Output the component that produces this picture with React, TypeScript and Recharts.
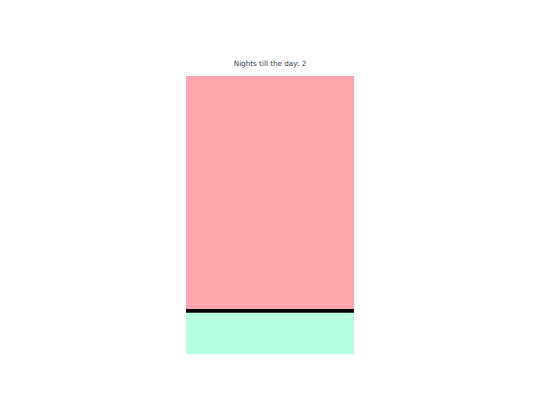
import React from "react";
import { BarChart, Bar, XAxis, YAxis } from "recharts";

const categories = ["today"];
const dayValues = [14.8];
const lineValues = [1.4];
const nightValues = [83.8];
const titleText = "Nights till the day: 2";

const data = categories.map((c, i) => ({
  name: c,
  day: dayValues[i],
  line: lineValues[i],
  night: nightValues[i],
}));

export default function App() {
  return (
    <div style={{ position: "fixed", left: 0, top: 0, width: 540, height: 405, background: "#fff" }}>
      <div
        style={{
          position: "absolute",
          left: 0,
          width: 540,
          top: 59,
          textAlign: "center",
          fontFamily: "DejaVu Sans",
          fontSize: 7.2,
          color: "#2f3b4c",
          lineHeight: "10px",
        }}
      >
        {titleText}
      </div>
      <BarChart
        width={540}
        height={405}
        data={data}
        margin={{ top: 76, right: 186, bottom: 51, left: 186 }}
        barCategoryGap={0}
        barGap={0}
      >
        <XAxis dataKey="name" hide />
        <YAxis hide domain={[0, 100]} />
        <Bar dataKey="day" stackId="a" fill="#b3ffe0" isAnimationActive={false} />
        <Bar dataKey="line" stackId="a" fill="#000000" isAnimationActive={false} />
        <Bar dataKey="night" stackId="a" fill="#ffa5ae" isAnimationActive={false} />
      </BarChart>
    </div>
  );
}
